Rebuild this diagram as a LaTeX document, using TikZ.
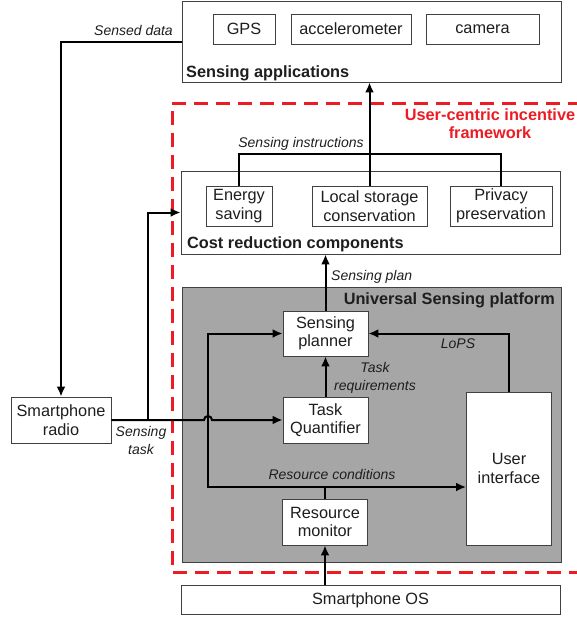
\documentclass[tikz,border=0pt]{standalone}
\usepackage{fontspec}
\setmainfont{Liberation Sans}
\usepackage{xcolor}
\usetikzlibrary{arrows.meta,positioning}
\definecolor{framered}{HTML}{ED1C24}
\definecolor{platgray}{HTML}{A6A6A6}
\definecolor{ink}{HTML}{1E1E1E}
\begin{document}
\begin{tikzpicture}[x=1pt,y=-1pt,font=\fontsize{16.3}{18.5}\selectfont,text=ink,
  box/.style={draw=black!75,line width=0.9pt,fill=white,align=center,inner sep=0pt},
  lbl/.style={font=\fontsize{14}{18}\selectfont\itshape,align=center,inner sep=1pt},
  head/.style={font=\fontsize{16.3}{18}\selectfont\bfseries,inner sep=0pt},
  arr/.style={-{Latex[length=10pt,width=9pt]},line width=2pt},
  link/.style={line width=2pt}]
  \useasboundingbox (0,0) rectangle (577,619);
  % outer framework
  \draw[framered,line width=3pt,dash pattern=on 14pt off 8pt] (582,103) -- (172,103) -- (172,572) -- (582,572);
  \node[framered,head,align=center] (fw) at (490,124) {User-centric incentive\\framework};
  % sensing applications
  \node[box,minimum width=379pt,minimum height=81pt] (apps) at (371.5,41.5) {};
  \node[box,minimum width=62pt,minimum height=30pt] (gps) at (244,29) {GPS};
  \node[box,minimum width=120pt,minimum height=30pt] (acc) at (351,29) {accelerometer};
  \node[box,minimum width=113pt,minimum height=30pt] (cam) at (482.5,29) {camera};
  \node[head,anchor=base west] (appst) at (186,77) {Sensing applications};
  % cost reduction
  \node[box,minimum width=379pt,minimum height=83pt] (cost) at (370.5,212.5) {};
  \node[box,minimum width=66pt,minimum height=40pt] (energy) at (239,206) {Energy\\saving};
  \node[box,minimum width=115pt,minimum height=40pt] (storage) at (369.5,206) {Local storage\\conservation};
  \node[box,minimum width=102pt,minimum height=40pt] (privacy) at (501,206) {Privacy\\preservation};
  \node[head,anchor=base west] (costt) at (187,248) {Cost reduction components};
  % universal sensing platform
  \node[box,fill=platgray,minimum width=379pt,minimum height=275pt] (usp) at (371.5,424.5) {};
  \node[head,anchor=base east] (uspt) at (555,304) {Universal Sensing platform};
  \node[box,minimum width=85pt,minimum height=45pt] (planner) at (325.5,333.5) {Sensing\\planner};
  \node[box,minimum width=85pt,minimum height=46pt] (quant) at (325.5,420) {Task\\Quantifier};
  \node[box,minimum width=85pt,minimum height=46pt] (monitor) at (325,522) {Resource\\monitor};
  \node[box,minimum width=85pt,minimum height=153pt] (ui) at (509,468.5) {User\\interface};
  % outside
  \node[box,minimum width=100pt,minimum height=46pt] (radio) at (61,420) {Smartphone\\radio};
  \node[box,minimum width=379pt,minimum height=29pt] (os) at (370.5,600) {Smartphone OS};
  \coordinate (br) at (369,154);
  \coordinate (st) at (148,420);
  \coordinate (jx) at (208,420);
  \coordinate (rc) at (208,487);
  % connectors
  \draw[arr] (apps.west) -| (radio.north);
  \draw[link] (energy.north) |- (br) -| (privacy.north);
  \draw[arr] (storage.north) -- (storage.north |- apps.south);
  \draw[arr] (planner.north) -- (planner.north |- cost.south);
  \draw[arr] (radio.east) -- ([xshift=-4pt]jx) arc (180:0:4pt) -- (quant.west);
  \draw[arr] (st) |- (cost.west);
  \draw[arr] (quant.north) -- (planner.south);
  \draw[arr] (ui.north) |- (planner.east);
  \draw[arr] (monitor.north) -- (monitor.north |- rc) -- (rc) |- (planner.west);
  \draw[arr] (monitor.north |- rc) -- (ui.west |- rc);
  \draw[arr] (monitor.south |- os.north) -- (monitor.south);
  % labels
  \node[lbl,anchor=south east] (sd) at (174,37) {Sensed data};
  \node[lbl,anchor=south] (si) at (301,152) {Sensing instructions};
  \node[lbl,anchor=west] (sp) at (330,277) {Sensing plan};
  \node[lbl] (tr) at (375,378) {Task\\requirements};
  \node[lbl] (lops) at (458,344) {LoPS};
  \node[lbl] (rcl) at (332,474) {Resource conditions};
  \node[lbl] (stk) at (141,440) {Sensing\\task};
\end{tikzpicture}
\end{document}
